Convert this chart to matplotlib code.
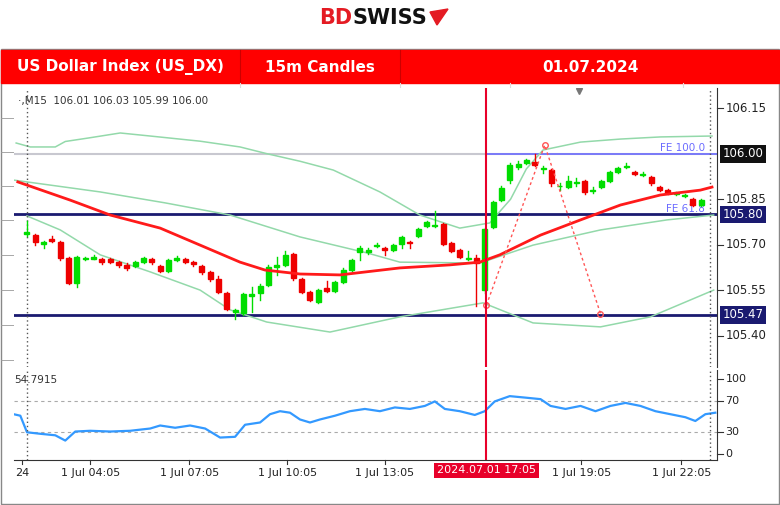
import matplotlib
matplotlib.use("Agg")
import matplotlib.pyplot as plt
from matplotlib.patches import Rectangle, Polygon
import matplotlib.transforms as mtrans

# ---------------- data ----------------
opens = [105.735,105.732,105.703,105.718,105.709,105.657,105.574,105.652,105.655,105.652,
         105.652,105.643,105.634,105.630,105.643,105.653,105.630,105.614,105.650,105.653,
         105.643,105.630,105.611,105.588,105.542,105.480,105.476,105.532,105.542,105.568,
         105.627,105.634,105.670,105.588,105.545,105.512,105.558,105.548,105.578,105.617,
         105.676,105.676,105.697,105.690,105.683,105.703,105.709,105.729,105.762,105.763,
         105.768,105.706,105.683,105.655,105.657,105.551,105.759,105.847,105.913,105.956,
         105.969,105.972,105.950,105.946,105.892,105.890,105.905,105.910,105.878,105.890,
         105.910,105.940,105.955,105.940,105.929,105.923,105.890,105.880,105.868,105.860,
         105.851,105.831]
closes = [105.742,105.709,105.708,105.712,105.657,105.574,105.660,105.655,105.660,105.645,
          105.645,105.634,105.624,105.643,105.657,105.643,105.614,105.650,105.657,105.643,
          105.637,105.611,105.588,105.545,105.489,105.484,105.538,105.538,105.565,105.627,
          105.634,105.667,105.591,105.545,105.519,105.551,105.548,105.578,105.617,105.650,
          105.690,105.683,105.700,105.683,105.700,105.726,105.706,105.752,105.775,105.766,
          105.703,105.680,105.660,105.658,105.640,105.752,105.841,105.887,105.963,105.966,
          105.979,105.963,105.953,105.903,105.894,105.910,105.907,105.874,105.880,105.910,
          105.940,105.953,105.956,105.933,105.931,105.903,105.880,105.870,105.870,105.862,
          105.831,105.848]
highs = [105.780,105.737,105.712,105.728,105.712,105.660,105.663,105.660,105.665,105.657,
         105.657,105.648,105.640,105.646,105.660,105.658,105.634,105.653,105.662,105.657,
         105.647,105.634,105.614,105.598,105.545,105.490,105.542,105.560,105.570,105.632,
         105.660,105.680,105.673,105.592,105.548,105.555,105.580,105.582,105.625,105.655,
         105.695,105.690,105.705,105.694,105.704,105.730,105.712,105.756,105.778,105.810,
         105.772,105.709,105.686,105.680,105.665,105.755,105.845,105.892,105.970,105.975,
         105.983,106.000,105.960,105.950,105.905,105.925,105.920,105.913,105.890,105.914,
         105.944,105.957,105.968,105.943,105.940,105.926,105.893,105.883,105.875,105.866,
         105.854,105.852]
lows = [105.730,105.700,105.690,105.708,105.650,105.570,105.560,105.650,105.652,105.638,
        105.640,105.628,105.618,105.627,105.640,105.638,105.610,105.611,105.647,105.640,
        105.630,105.605,105.580,105.540,105.485,105.455,105.468,105.478,105.520,105.565,
        105.600,105.630,105.585,105.540,105.515,105.508,105.545,105.545,105.575,105.614,
        105.650,105.670,105.693,105.665,105.680,105.690,105.690,105.726,105.758,105.760,
        105.698,105.676,105.656,105.650,105.500,105.540,105.755,105.843,105.905,105.950,
        105.965,105.958,105.935,105.895,105.880,105.888,105.895,105.868,105.872,105.886,
        105.906,105.937,105.952,105.930,105.926,105.898,105.876,105.866,105.865,105.856,
        105.827,105.828]

ma_idx = [-1.1,5.2,10,16,20.8,25.6,28.6,32.8,37.6,44.8,50.8,54.4,56.8,61.7,66.5,71.3,76.1,80.9,82.3]
ma_val = [105.907,105.847,105.798,105.755,105.699,105.643,105.617,105.604,105.601,105.624,
          105.634,105.643,105.667,105.732,105.782,105.831,105.864,105.880,105.890]

up_idx = [-1.3,0.4,3.4,4.6,7.5,11.2,14.8,20.8,25.6,28.8,32.8,36.8,42.4,47.2,52.0,55.6,58.1,60.0,62.0,66.5,71.3,76.1,82.3]
up_val = [106.035,106.022,106.022,106.040,106.052,106.068,106.058,106.041,106.022,106.000,105.975,105.946,105.874,105.798,
          105.755,105.772,105.850,105.950,106.012,106.038,106.048,106.055,106.058]
mid_idx = [-1.6,8.8,16.6,24.4,32.8,40.9,44.8,54.4,60.8,68.9,76.9,82.5]
mid_val = [105.913,105.874,105.838,105.798,105.726,105.673,105.643,105.640,105.699,105.749,105.782,105.798]
lo_idx = [0,4.0,8.8,14.8,20.8,24.4,28.8,36.4,44.8,54.8,60.8,68.9,74.9,82.5]
lo_val = [105.795,105.749,105.667,105.611,105.551,105.486,105.446,105.413,105.463,105.509,
          105.443,105.430,105.463,105.551]

fib_idx = [55.2, 62.2, 68.9]
fib_val = [105.502, 106.028, 105.474]

rsi_idx = [-1.6,-0.8,0,1.6,3.4,4.6,5.8,7.6,10,12.4,14.8,16,17.8,19.6,21.4,23.2,25,26.2,28,29.2,
           30.4,31.6,32.8,34,35.2,37,38.8,40.6,42.4,44.2,46,47.8,49,50.2,52,53.8,55,56.2,58,59.9,
           61.7,62.9,64.7,66.5,68.3,70.1,71.9,73.7,75.5,77.3,79.1,80.3,81.5,82.7]
rsi_val = [53,51,29,27,25,18,30,31,30,31,34,38,35,38,34,22,23,39,42,53,
           57,55,46,42,46,51,57,60,57,62,60,64,70,60,57,52,57,70,77,75,
           73,64,60,64,57,64,68,64,57,53,49,44,53,55]

tick_pos = [-0.6, 7.6, 19.5, 31.25, 43, 66.6, 78.6]
tick_lab = ["24", "1 Jul 04:05", "1 Jul 07:05", "1 Jul 10:05", "1 Jul 13:05", "1 Jul 19:05", "1 Jul 22:05"]
hl_pos, hl_lab = 55.2, "2024.07.01 17:05"

price_ticks = [106.15, 105.85, 105.70, 105.55, 105.40]
levels = [106.00, 105.80, 105.47]
rsi_ticks = [100, 70, 30, 0]

# ---------------- layout ----------------
W, H = 780, 505
fig = plt.figure(figsize=(W/100, H/100), dpi=100)
fig.patch.set_facecolor("white")

def rect(x0, y0, x1, y1):
    return [x0/W, 1 - y1/H, (x1-x0)/W, (y1-y0)/H]

hdr = fig.add_axes([0, 0, 1, 1], zorder=-1)
hdr.set_xlim(0, W); hdr.set_ylim(H, 0); hdr.axis("off")
hdr.text(352, 18, "BD", color="#e41b23", fontsize=15, fontweight="bold", ha="right", va="center")
hdr.text(352, 18, "SWISS", color="#111111", fontsize=15, fontweight="bold", ha="left", va="center")
hdr.add_patch(Polygon([[430, 12], [448, 9], [437, 25]], closed=True, color="#e41b23"))
hdr.add_patch(Rectangle((1, 49), 778, 455, fill=False, ec="#888888", lw=1))
hdr.add_patch(Rectangle((1, 50), 778, 33, color="#ff0000"))
for xx in (240, 400):
    hdr.plot([xx, xx], [50, 83], color="#cc0000", lw=0.8)
for xx in (240, 400, 510, 683):
    hdr.plot([xx, xx], [83, 93], color="#dddddd", lw=0.8)
for yy in (118, 152, 186, 220, 255, 290, 325, 360):
    hdr.plot([1, 14], [yy, yy], color="#999999", lw=0.6)
hdr.text(120, 67, "US Dollar Index (US_DX)", color="white", fontsize=11, fontweight="bold", ha="center", va="center")
hdr.text(320, 67, "15m Candles", color="white", fontsize=11, fontweight="bold", ha="center", va="center")
hdr.text(590, 67, "01.07.2024", color="white", fontsize=11, fontweight="bold", ha="center", va="center")

xlim = (-1.56, 82.9)
ax = fig.add_axes(rect(14, 88, 717, 367))
ax.set_xlim(*xlim); ax.set_ylim(105.298, 106.216)
ax.set_xticks([]); ax.set_yticks([])
for s in ("top", "left", "bottom"):
    ax.spines[s].set_visible(False)
ax.spines["right"].set_color("#333333")

ax.axhline(106.00, color="#c8c8d0", lw=1.5, zorder=1)
ax.plot([55.2, xlim[1]], [106.00, 106.00], color="#6c6cff", lw=1.2, zorder=2)
for lv in levels[1:]:
    ax.axhline(lv, color="#1a1a70", lw=2, zorder=2)
ax.text(81.5, 106.003, "FE 100.0", color="#6c6cff", fontsize=7.5, ha="right", va="bottom")
ax.text(81.5, 105.803, "FE 61.8", color="#6c6cff", fontsize=7.5, ha="right", va="bottom")

bc = "#93d9aa"
ax.plot(up_idx, up_val, color=bc, lw=1.1, zorder=2)
ax.plot(mid_idx, mid_val, color=bc, lw=1.1, zorder=2)
ax.plot(lo_idx, lo_val, color=bc, lw=1.1, zorder=2)
ax.plot(ma_idx, ma_val, color="#ff1a1a", lw=2, zorder=4)

for i, (o, c, h, l) in enumerate(zip(opens, closes, highs, lows)):
    col = "#00dd00" if c >= o else "#ee0000"
    ax.plot([i, i], [l, h], color=col, lw=1, zorder=3)
    ax.add_patch(Rectangle((i-0.3, min(o, c)), 0.6, max(abs(c-o), 0.003), color=col, zorder=3))

ax.plot(fib_idx, fib_val, color="#ff5555", lw=1, ls=(0, (2, 2)), zorder=4)
ax.plot(fib_idx, fib_val, "o", ms=4, mfc="none", mec="#ff5555", zorder=4)

ax.axvline(0, color="#555555", lw=1, ls=(0, (1, 2)))
ax.axvline(82.1, color="#555555", lw=1, ls=(0, (1, 2)))
ax.axvline(hl_pos, color="#e8002a", lw=1.5, zorder=5)
ax.plot([66.3], [106.205], marker="v", ms=4, color="#777777")

ax.text(0.005, 0.955, "\u00b7,M15  106.01 106.03 105.99 106.00", transform=ax.transAxes,
        fontsize=7.5, color="#333333", va="center")

tr = mtrans.blended_transform_factory(ax.transAxes, ax.transData)
for p in price_ticks:
    ax.plot([1, 1.008], [p, p], transform=tr, color="#333", lw=0.8, clip_on=False)
    ax.text(1.012, p, f"{p:.2f}", transform=tr, fontsize=8.5, color="#222", va="center", ha="left")
boxc = {106.00: "#111111", 105.80: "#1a1a70", 105.47: "#1a1a70"}
for lv in levels:
    ax.text(1.008, lv, f"{lv:.2f}", transform=tr, fontsize=8.5, color="white", va="center", ha="left",
            bbox=dict(boxstyle="square,pad=0.2", fc=boxc[lv], ec="none"), clip_on=False)

ax2 = fig.add_axes(rect(14, 370, 717, 460))
ax2.set_xlim(*xlim); ax2.set_ylim(-7.8, 111.7)
ax2.set_xticks([]); ax2.set_yticks([])
for s in ("top", "left"):
    ax2.spines[s].set_visible(False)
ax2.spines["right"].set_color("#333333"); ax2.spines["bottom"].set_color("#333333")
for v in (70, 30):
    ax2.axhline(v, color="#aaaaaa", lw=0.8, ls=(0, (3, 3)))
ax2.plot(rsi_idx, rsi_val, color="#3399ff", lw=1.6)
ax2.axvline(0, color="#555555", lw=1, ls=(0, (1, 2)))
ax2.axvline(82.1, color="#555555", lw=1, ls=(0, (1, 2)))
ax2.axvline(hl_pos, color="#e8002a", lw=1.5)
ax2.text(0.0, 0.86, "54.7915", transform=ax2.transAxes, fontsize=7.5, color="#333")
tr2 = mtrans.blended_transform_factory(ax2.transAxes, ax2.transData)
for v in rsi_ticks:
    ax2.plot([1, 1.008], [v, v], transform=tr2, color="#333", lw=0.8, clip_on=False)
    ax2.text(1.012, v, str(v), transform=tr2, fontsize=8, color="#222", va="center", ha="left")

tr3 = mtrans.blended_transform_factory(ax2.transData, ax2.transAxes)
for p, lab in zip(tick_pos, tick_lab):
    ax2.plot([p, p], [0, -0.04], transform=tr3, color="#333", lw=0.8, clip_on=False)
    ax2.text(p, -0.09, lab, transform=tr3, fontsize=8, color="#222", ha="center", va="top", clip_on=False)
ax2.text(hl_pos, -0.06, hl_lab, transform=tr3, fontsize=8, color="white", ha="center", va="top",
         bbox=dict(boxstyle="square,pad=0.25", fc="#e8002a", ec="none"), clip_on=False)

fig.savefig("out.png", dpi=100)
